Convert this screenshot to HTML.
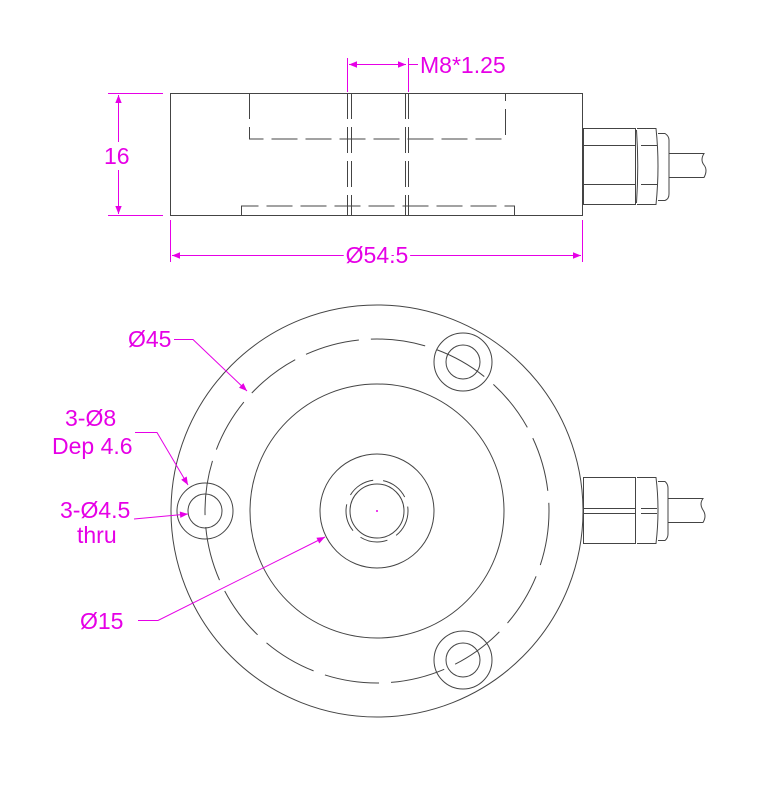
<!DOCTYPE html>
<html><head><meta charset="utf-8"><style>
html,body{margin:0;padding:0;background:#fff}
svg{display:block}
text{font-family:"Liberation Sans",sans-serif;fill:#e600e6;font-size:23px}
</style></head><body>
<svg width="775" height="800" viewBox="0 0 775 800" xmlns="http://www.w3.org/2000/svg">
<defs>
<marker id="a" viewBox="0 0 10 10" refX="10" refY="5" markerWidth="14" markerHeight="8" orient="auto-start-reverse" markerUnits="userSpaceOnUse"><path d="M0,1 L10,5 L0,9 Z" fill="#e600e6"/></marker>
</defs>
<g fill="none" stroke="#444" stroke-width="1">
<rect x="170.5" y="93.5" width="412" height="122"/>
<g stroke-dasharray="26 8">
<path d="M249.5 93 V139 H505.5 V93"/>
<path d="M241.5 215 V206 H514.5 V215"/>
<path d="M347.5 93 V215 M351.5 93 V215 M405.5 93 V215 M408.5 93 V215"/>
</g>
<rect x="583.5" y="128.5" width="52" height="76"/>
<path d="M583 145.5 H636 M583 184.5 H636"/>
<path d="M636.5 130 Q639 166 636.5 203 M637 128.5 H656 Q660 166 656 204.5 H637"/>
<path d="M641 145.5 H657 M641 184.5 H657"/>
<path d="M658 133.5 H665 Q669 136 669 140 V194 Q669 199 665 200.5 H658"/>
<path d="M669 153.5 H704 Q700 160 704 165 Q708 170 704 177.5 H669"/>
<circle cx="377" cy="511" r="206"/>
<circle cx="377" cy="511" r="172" stroke-dasharray="55 12"/>
<circle cx="377" cy="511" r="127"/>
<circle cx="377" cy="511" r="57"/>
<circle cx="377" cy="511" r="27"/>
<circle cx="377" cy="511" r="31" stroke-dasharray="28 10"/>
<circle cx="205" cy="511" r="28"/><circle cx="205" cy="511" r="17"/>
<circle cx="463" cy="362" r="29"/><circle cx="463" cy="362" r="17"/>
<circle cx="463" cy="660" r="29"/><circle cx="463" cy="660" r="17"/>
<rect x="583.5" y="477.5" width="52" height="66"/>
<path d="M583 508.5 H636 M583 513.5 H636"/>
<path d="M637 477.5 H656 Q660 510 656 543.5 H637"/>
<path d="M641 508.5 H657 M641 513.5 H657"/>
<path d="M658 481.5 H665 Q668 484 668 488 V534 Q668 538 665 540.5 H658"/>
<path d="M668 498.5 H703 Q699 504 703 510 Q707 516 703 522.5 H668"/>
</g>
<g stroke="#e600e6" stroke-width="1" fill="none">
<path d="M347.5 58 V92 M408.5 58 V92"/>
<path d="M349 64.5 H406" marker-start="url(#a)" marker-end="url(#a)"/>
<path d="M408 64.5 H418"/>
<path d="M108 93.5 H163 M108 215.5 H163"/>
<path d="M118.5 95 V214" marker-start="url(#a)" marker-end="url(#a)"/>
<path d="M170.5 220 V262 M582.5 220 V262"/>
<path d="M172 255.5 H581" marker-start="url(#a)" marker-end="url(#a)"/>
<path d="M174 339.5 H193 L247 391" marker-end="url(#a)"/>
<path d="M135 432.5 H157 L188 485" marker-end="url(#a)"/>
<path d="M134 519 L188 514" marker-end="url(#a)"/>
<path d="M138 620.5 H158 L325 537" marker-end="url(#a)"/>
</g>
<circle cx="377" cy="511" r="1" fill="#e600e6"/>
<rect x="102" y="142" width="32" height="28" fill="#fff"/>
<text x="104" y="164">16</text>
<text x="420" y="73">M8*1.25</text>
<text x="377" y="263" text-anchor="middle" fill="#fff" stroke="#fff" stroke-width="6">Ø54.5</text>
<text x="377" y="263" text-anchor="middle">Ø54.5</text>
<text x="128" y="347">Ø45</text>
<text x="65" y="426">3-Ø8</text>
<text x="52" y="454">Dep 4.6</text>
<text x="60" y="518">3-Ø4.5</text>
<text x="77" y="543">thru</text>
<text x="80" y="629">Ø15</text>
</svg>
</body></html>
